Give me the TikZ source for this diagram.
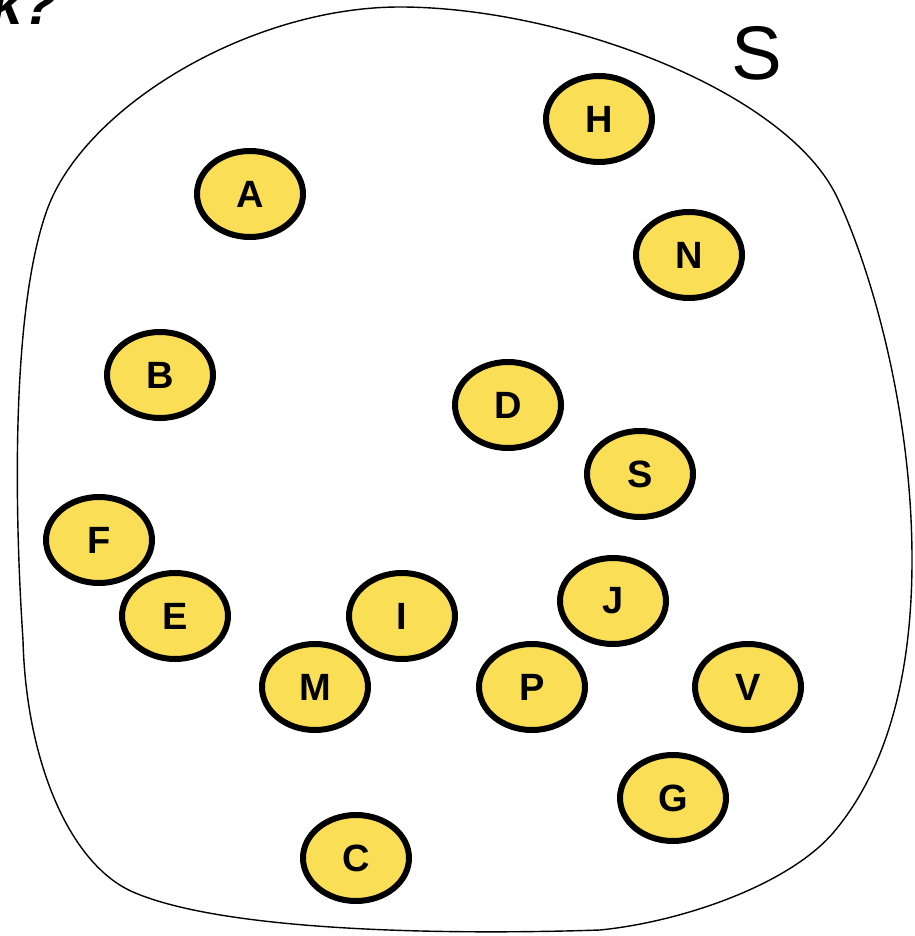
\documentclass[tikz,border=0pt]{standalone}
\usepackage{fontspec}
\setmainfont{Liberation Sans}
\usetikzlibrary{shapes.geometric}
\definecolor{nodefill}{HTML}{F9DE56}
\begin{document}
\begin{tikzpicture}[x=1pt,y=-1pt,
  elem/.style={ellipse,draw=black,line width=6pt,fill=nodefill,minimum width=106pt,minimum height=86pt,inner sep=0pt,font=\fontsize{38}{40}\selectfont\bfseries},
  ]
\useasboundingbox (0,0) rectangle (914,936);
% set outline
\draw[line width=1.4pt] (400,7)
  .. controls (560,7) and (785,89) .. (837,197)
  .. controls (871,269) and (912,410) .. (912,560)
  .. controls (912,680) and (885,772) .. (833,833)
  .. controls (787,886) and (680,922) .. (600,930)
  .. controls (450,935) and (225,932) .. (133,892)
  .. controls (69,864) and (26,760) .. (23,640)
  .. controls (15,520) and (10,313) .. (47,210)
  .. controls (84,107) and (250,7) .. (400,7) -- cycle;
\node[font=\fontsize{76}{78}\selectfont, anchor=base] (slabel) at (757,80) {S};
\node[font=\fontsize{58}{60}\selectfont\bfseries\itshape, anchor=base east, inner sep=0pt] (ktxt) at (58,25) {k?};
\node[elem] (A) at (250,194) {A};
\node[elem] (H) at (599,119) {H};
\node[elem] (N) at (689,255) {N};
\node[elem] (B) at (160,375) {B};
\node[elem] (D) at (508,405) {D};
\node[elem] (S) at (640,474) {S};
\node[elem] (F) at (99,540) {F};
\node[elem] (E) at (175,616) {E};
\node[elem] (I) at (402,616) {I};
\node[elem] (J) at (613,601) {J};
\node[elem] (M) at (315,687) {M};
\node[elem] (P) at (532,687) {P};
\node[elem] (V) at (748,687) {V};
\node[elem] (G) at (673,798) {G};
\node[elem] (C) at (356,858) {C};
\end{tikzpicture}
\end{document}
